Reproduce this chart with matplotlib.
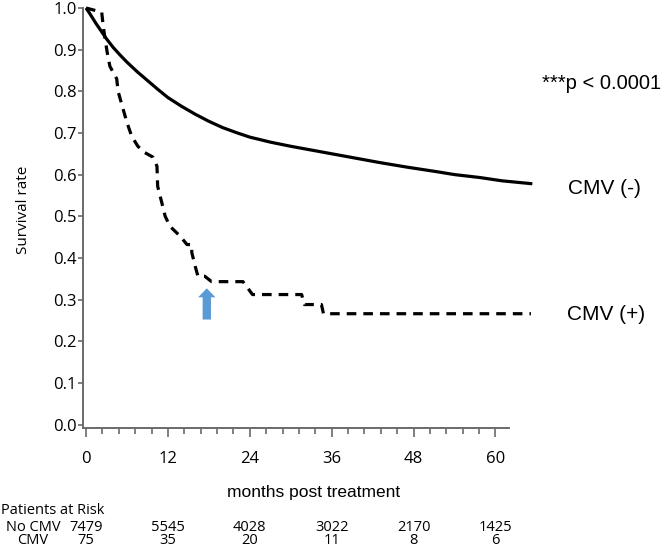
import matplotlib
matplotlib.use("Agg")
import matplotlib.pyplot as plt
from matplotlib import font_manager
from matplotlib.transforms import blended_transform_factory

# ---------------- data ----------------
neg_months = [0, 0.5, 1, 1.5, 2, 3, 4, 5, 6, 7.5, 9, 10.5, 12, 14, 16, 18, 20, 22, 24, 27, 30, 33, 36,
              40, 43, 47, 51.4, 54, 57.7, 61, 65.4]
neg_surv = [1.0, 0.988, 0.975, 0.962, 0.95, 0.926, 0.905, 0.887, 0.87, 0.847, 0.826, 0.805, 0.785, 0.764,
            0.745, 0.728, 0.713, 0.701, 0.69, 0.678, 0.668, 0.659, 0.65, 0.638, 0.629, 0.618, 0.607, 0.600,
            0.593, 0.585, 0.578]

pos_months = [0, 2.3, 2.5, 2.8, 3.1, 3.5, 4.5, 4.7, 5.3, 6.0, 6.7, 7.6, 8.6, 9.8, 10.4, 10.5,
              11.1, 11.6, 12.3, 13.8, 14.8, 15.5, 15.5, 16.0, 16.4, 17.4, 18.4, 23.0, 24.4,
              31.6, 32.0, 34.5, 34.8, 65.2]
pos_surv = [1.0, 0.99, 0.96, 0.925, 0.894, 0.86, 0.83, 0.80, 0.765, 0.725, 0.692, 0.668, 0.653, 0.642, 0.62, 0.572,
            0.533, 0.50, 0.476, 0.452, 0.432, 0.432, 0.413, 0.38, 0.356, 0.356, 0.343, 0.343, 0.312,
            0.312, 0.288, 0.288, 0.266, 0.266]

risk_months = [0, 12, 24, 36, 48, 60]
risk_no_cmv = ["7479", "5545", "4028", "3022", "2170", "1425"]
risk_cmv = ["75", "35", "20", "11", "8", "6"]
risk_groups = ["No CMV", "CMV"]

arrow_month = 17.7
arrow_from, arrow_to = 0.252, 0.327

# ---------------- fonts ----------------
avail = {f.name for f in font_manager.fontManager.ttflist}
def pick(*names):
    for n in names:
        if n in avail:
            return n
    return "DejaVu Sans"
F_TICK = pick("Open Sans", "Noto Sans", "DejaVu Sans")
F_ARIAL = pick("Liberation Sans", "DejaVu Sans")
F_NARROW = pick("Liberation Sans Narrow", "Open Sans", "DejaVu Sans")

W, H = 666, 547
fig = plt.figure(figsize=(W / 100, H / 100), dpi=100)
ax = fig.add_axes([83 / W, (H - 428) / H, 450 / W, 420 / H])

ax.plot(neg_months, neg_surv, color="black", lw=2.3, solid_capstyle="butt", solid_joinstyle="round",
        clip_on=False, zorder=3)
ax.plot(pos_months, pos_surv, color="black", lw=2.3, linestyle=(0, (3.0, 2.2)), clip_on=False, zorder=3)

ax.annotate("", xy=(arrow_month, arrow_to), xytext=(arrow_month, arrow_from),
            arrowprops=dict(arrowstyle="simple,head_width=1.25,head_length=0.65,tail_width=0.6",
                            color="#5B9BD5", shrinkA=0, shrinkB=0, lw=0))

ax.set_xlim(-0.44, 65.5)
ax.set_ylim(-0.0084, 1.0)
ax.spines["top"].set_visible(False)
ax.spines["right"].set_visible(False)
for s in ("left", "bottom"):
    ax.spines[s].set_color("#6a6a6a")
    ax.spines[s].set_linewidth(1.4)
ax.spines["bottom"].set_bounds(-0.44, 62)

ax.set_xticks(risk_months)
ax.set_xticks([m for m in [i * 2.4 for i in range(26)] if m <= 62 and m not in risk_months], minor=True)
ax.set_yticks([i / 10 for i in range(11)])
ax.set_yticklabels([f"{i/10:.1f}" for i in range(11)])
ax.tick_params(axis="x", which="major", direction="out", length=6.5, width=1.2, color="#6a6a6a", pad=10,
               labelsize=12)
ax.tick_params(axis="x", which="minor", direction="out", length=4, width=1.2, color="#6a6a6a")
ax.tick_params(axis="y", which="major", direction="out", length=3.5, width=1.2, color="#6a6a6a", pad=1,
               labelsize=12)
for lab in ax.get_xticklabels() + ax.get_yticklabels():
    lab.set_fontfamily(F_TICK)

def ft(x, y, s, **kw):
    fig.text(x / W, 1 - y / H, s, **kw)

ft(542, 83, "***p < 0.0001", family=F_ARIAL, fontsize=14.5, va="center", ha="left")
ft(568, 188, "CMV (-)", family=F_ARIAL, fontsize=15, va="center", ha="left")
ft(567, 315, "CMV (+)", family=F_ARIAL, fontsize=15, va="center", ha="left")
ft(24, 210, "Survival rate", family=F_TICK, fontsize=11, rotation=90, va="center", ha="center")
ft(314, 493, "months post treatment", family=F_ARIAL, fontsize=12.5, va="center", ha="center")
ft(1, 511, "Patients at Risk", family=F_TICK, fontsize=10.5, va="center", ha="left")
ft(33, 534, "\n".join(risk_groups), family=F_NARROW, fontsize=10.5, va="center", ha="center",
   multialignment="center", linespacing=0.85)

tr = blended_transform_factory(ax.transData, fig.transFigure)
for m, a, b in zip(risk_months, risk_no_cmv, risk_cmv):
    ax.text(m, 1 - 534 / H, f"{a}\n{b}", transform=tr, family=F_NARROW, fontsize=10.5,
            ha="center", va="center", multialignment="center", linespacing=0.85)

fig.savefig("out.png", dpi=100)
